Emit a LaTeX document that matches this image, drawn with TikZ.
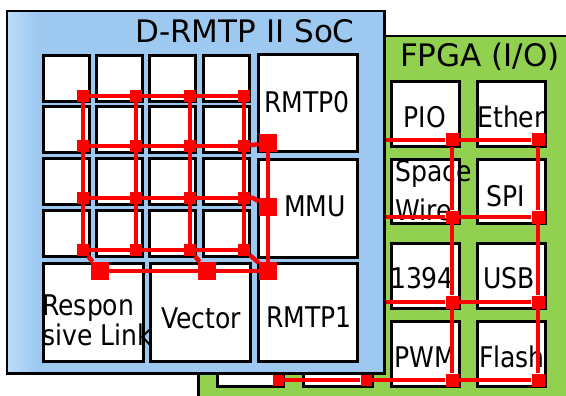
\documentclass[tikz,border=0pt]{standalone}
\usepackage{fontspec}
\setmainfont{DejaVu Sans}
\newfontfamily\lblfont{DejaVu Sans}[FakeStretch=0.88]
\definecolor{socblue}{RGB}{157,200,240}
\definecolor{soclight}{RGB}{188,220,248}
\definecolor{fpgagreen}{RGB}{146,208,80}
\begin{document}
\begin{tikzpicture}[x=1pt,y=-1pt,
 sbox/.style={draw=black,line width=3pt,fill=white,inner sep=0pt},
 gbox/.style={sbox,minimum width=46pt,minimum height=46pt},
 fbox/.style={draw=black,line width=3pt,fill=white,inner sep=0pt,minimum width=68pt,minimum height=65pt},
 lbl/.style={font=\lblfont\fontsize{28.5}{30}\selectfont,inner sep=0pt,anchor=base},
 ttl/.style={font=\fontsize{31}{36}\selectfont,inner sep=0pt,anchor=base},
 rs/.style={fill=red,inner sep=0pt,minimum size=12pt},
 rb/.style={fill=red,inner sep=0pt,minimum size=18pt},
 rf/.style={fill=red,inner sep=0pt,minimum size=13pt},
 link/.style={draw=red,line width=4.5pt}]
\useasboundingbox[fill=white] (0,0) rectangle (566,396);

% FPGA
\node[draw=black,line width=2.5pt,fill=fpgagreen,minimum width=420pt,minimum height=420pt,anchor=north west,inner sep=0pt] (fpga) at (197,35) {};
\node[ttl] (fpgat) at (480,67) {FPGA (I/O)};

\node[fbox] (pio) at (425,114.5) {};
\node[fbox] (eth) at (511,114.5) {};
\node[fbox,minimum height=63pt] (spw) at (425,191.5) {};
\node[fbox,minimum height=63pt] (spi) at (511,191.5) {};
\node[fbox] (i1394) at (425,275.5) {};
\node[fbox] (usb) at (511,275.5) {};
\node[fbox] (pwm) at (425,353.5) {};
\node[fbox] (fla) at (511,353.5) {};
\node[fbox,minimum width=66pt] (hb1) at (250,353.5) {};
\node[fbox,minimum width=69pt] (hb2) at (337.5,353.5) {};

\node[lbl] (tpio) at (425,128) {PIO};
\node[lbl] (teth) at (511,128) {Ether};
\node[lbl,anchor=base west] (tspa) at (395,182) {Space};
\node[lbl,anchor=base west] (twir) at (395,220) {Wire};
\node[lbl] (tspi) at (506,207) {SPI};
\node[lbl] (t1394) at (422,288) {1394};
\node[lbl] (tusb) at (509,288) {USB};
\node[lbl] (tpwm) at (425,367) {PWM};
\node[lbl] (tfla) at (512,367) {Flash};

\foreach \i/\y in {1/140,2/217,3/302,4/380}{
  \node[rf] (p\i) at (452,\y) {};
  \node[rf] (e\i) at (538,\y) {};
}
\node[rf,minimum size=11pt] (b1) at (278,380) {};
\node[rf,minimum size=11pt] (b2) at (366,380) {};
\coordinate (f1) at (380,140);
\coordinate (f2) at (380,217);
\coordinate (f3) at (380,302);
\foreach \i in {1,2,3}{ \draw[link] (f\i) -- (p\i) -- (e\i); }
\draw[link] (b1) -- (b2) -- (p4) -- (e4);
\draw[link] (p1) -- (p2) -- (p3) -- (p4);
\draw[link] (e1) -- (e2) -- (e3) -- (e4);

% SoC
\node[fill=socblue,minimum width=377pt,minimum height=362pt,anchor=north west,inner sep=0pt] (soc) at (7,11) {};
\shade[left color=soclight,right color=socblue] (8,12) rectangle (38,372);
\draw[line width=2.5pt] (soc.north west) rectangle (soc.south east);
\node[ttl] (soct) at (245,43) {D-RMTP II SoC};

\foreach \c/\x in {1/66,2/119,3/172.5,4/226.5}{
  \foreach \r/\y in {1/78.5,2/129.5,3/182,4/233.5}{
    \node[gbox] (g\r\c) at (\x,\y) {};
  }
}
\node[sbox,minimum width=99pt,minimum height=97pt] (brm0) at (307.5,103.5) {};
\node[sbox,minimum width=99pt,minimum height=97pt] (bmmu) at (307.5,208.5) {};
\node[sbox,minimum width=99pt,minimum height=98pt] (brm1) at (307.5,312) {};
\node[sbox,minimum width=100pt,minimum height=98pt] (bvec) at (200,312) {};
\node[sbox,minimum width=100pt,minimum height=98pt] (brl) at (93,312) {};

\node[lbl] (trm0) at (307,113) {RMTP0};
\node[lbl] (tmmu) at (315,217) {MMU};
\node[lbl] (trm1) at (309,327) {RMTP1};
\node[lbl] (tvec) at (201,328) {Vector};
\node[lbl,anchor=base west] (trl1) at (42,315) {Respon};
\node[lbl,anchor=base west] (trl2) at (42,345) {sive Link};

\foreach \c/\x in {1/83,2/136,3/190,4/244}{
  \foreach \r/\y in {1/96,2/146,3/198,4/250}{
    \node[rs] (n\r\c) at (\x,\y) {};
  }
}
\node[rb] (r0) at (268,143) {};
\node[rb] (mm) at (268,207) {};
\node[rb] (r1) at (268,271) {};
\node[rb] (vc) at (207,271) {};
\node[rb] (rl) at (100,271) {};

\foreach \r in {1,...,4}{ \draw[link] (n\r1) -- (n\r2) -- (n\r3) -- (n\r4); }
\foreach \c in {1,...,4}{ \draw[link] (n1\c) -- (n2\c) -- (n3\c) -- (n4\c); }
\draw[link] (n24) -- (r0);
\draw[link] (r0) -- (mm) -- (r1);
\coordinate (k1) at (253,198);
\draw[link] (n34) -- (k1) -- (mm);
\draw[link] (n44) -- (r1);
\draw[link] (n41) -- (rl);
\draw[link] (n43) -- (vc);
\draw[link] (rl) -- (vc) -- (r1);
\end{tikzpicture}
\end{document}
